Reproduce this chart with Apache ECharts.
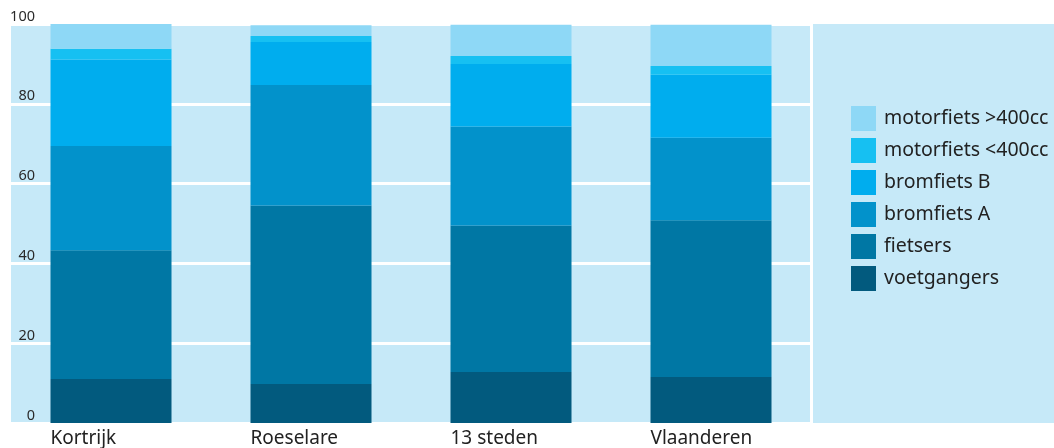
<!DOCTYPE html>
<html>
<head>
<meta charset="utf-8">
<script src="https://cdn.jsdelivr.net/npm/echarts@6/dist/echarts.min.js"></script>
<style>
  html, body { margin: 0; padding: 0; background: #fff; }
  #chart { width: 1054px; height: 448px; }
</style>
</head>
<body>
<div id="chart"></div>
<script>
// categorieën en waarden (aandeel in %)
const categories = ['Kortrijk', 'Roeselare', '13 steden', 'Vlaanderen']
const voetgangers = [11.0, 9.8, 12.8, 11.5]
const fietsers = [32.3, 44.7, 36.7, 39.3]
const bromfietsA = [26.1, 30.2, 24.8, 20.7]
const bromfietsB = [21.7, 10.8, 15.7, 15.8]
const motorKlein = [2.7, 1.5, 2.0, 2.2]
const motorGroot = [6.2, 2.7, 7.8, 10.3]
const yTicks = [0, 20, 40, 60, 80, 100]

const seriesDefs = [
  { name: 'voetgangers', data: voetgangers, color: '#025a7e' },
  { name: 'fietsers', data: fietsers, color: '#0077a4' },
  { name: 'bromfiets A', data: bromfietsA, color: '#0292cb' },
  { name: 'bromfiets B', data: bromfietsB, color: '#00adee' },
  { name: 'motorfiets <400cc', data: motorKlein, color: '#16c0f2' },
  { name: 'motorfiets >400cc', data: motorGroot, color: '#8ed8f6' },
]

const chart = echarts.init(document.getElementById('chart'))
const font = "'Noto Sans', sans-serif"

chart.setOption({
  animation: false,
  // lichtblauwe achtergrond, ook achter de legende
  graphic: [{
    type: 'rect',
    z: -10,
    silent: true,
    shape: { x: 11, y: 24, width: 1043, height: 399 },
    style: { fill: '#c6e9f8' },
  }],
  grid: { left: 11, right: 243, top: 24, bottom: 25 },
  legend: {
    orient: 'vertical',
    left: 846,
    top: 101,
    itemWidth: 25,
    itemHeight: 25,
    itemGap: 7,
    icon: 'rect',
    data: seriesDefs.map(s => s.name).reverse(),
    textStyle: { fontFamily: font, fontSize: 19.5, color: '#222', padding: [0, 0, 0, 3] },
  },
  xAxis: {
    type: 'category',
    data: categories,
    axisLine: { show: false },
    axisTick: { show: false },
    axisLabel: {
      margin: 6,
      align: 'center',
      formatter: v => '{a|' + v + '}',
      rich: {
        a: { width: 121, align: 'left', fontFamily: font, fontSize: 19, color: '#222' },
      },
    },
  },
  yAxis: [{
    type: 'value',
    min: 0,
    max: 100,
    interval: 20,
    axisLine: { show: false },
    axisTick: { show: false },
    splitLine: { lineStyle: { color: '#ffffff', width: 3 } },
    axisLabel: {
      margin: -24,
      verticalAlign: 'bottom',
      padding: [0, 0, 0, 0],
      fontFamily: font,
      fontSize: 14.5,
      color: '#2a2a2a',
      formatter: v => (yTicks.includes(v) ? String(v) : ''),
    },
  }, {
    // witte scheidingslijn rechts van het plotgebied
    type: 'value',
    position: 'right',
    min: 0,
    max: 100,
    axisLine: { show: true, lineStyle: { color: '#ffffff', width: 3 } },
    axisTick: { show: false },
    axisLabel: { show: false },
    splitLine: { show: false },
  }],
  series: seriesDefs.map(s => ({
    name: s.name,
    type: 'bar',
    stack: 'totaal',
    barWidth: 121,
    data: s.data,
    itemStyle: { color: s.color },
  })),
})
</script>
</body>
</html>
